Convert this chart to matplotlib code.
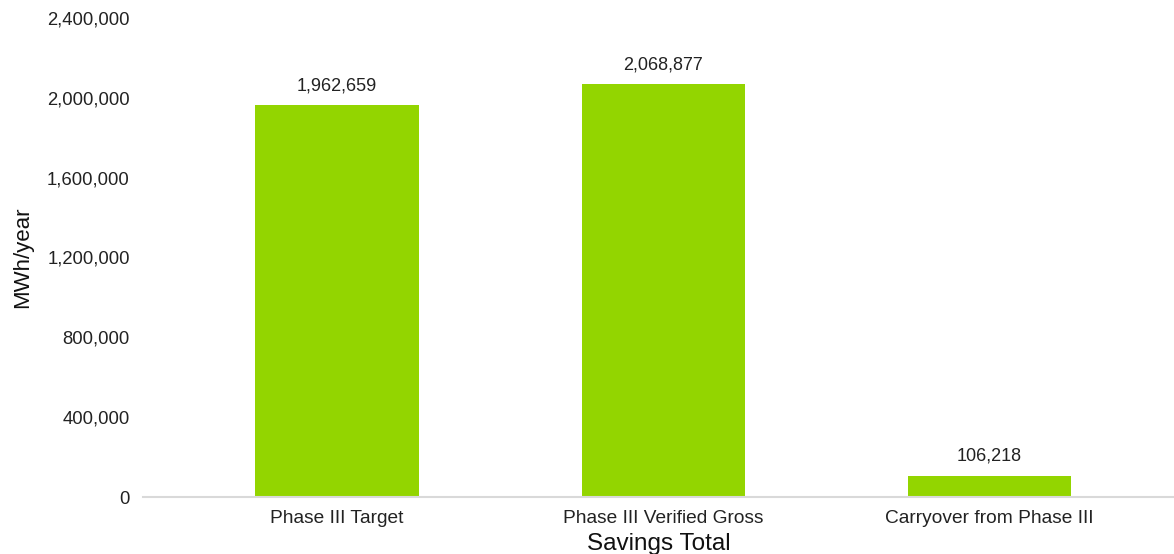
import matplotlib
matplotlib.use("Agg")
import matplotlib.pyplot as plt
from matplotlib.ticker import FuncFormatter

categories = ["Phase III Target", "Phase III Verified Gross", "Carryover from Phase III"]
values = [1962659, 2068877, 106218]
y_ticks = [0, 400000, 800000, 1200000, 1600000, 2000000, 2400000]

plt.rcParams["font.family"] = ["Liberation Sans", "DejaVu Sans"]

fig = plt.figure(figsize=(11.74, 5.54), dpi=100)
ax = fig.add_axes([143 / 1174, 57 / 554, 1 - 143 / 1174, 479 / 554])

x = range(len(categories))
bars = ax.bar(x, values, width=0.5, color="#93D500", zorder=2)

for b, v in zip(bars, values):
    ax.text(b.get_x() + b.get_width() / 2, v + 55000, f"{v:,}",
            ha="center", va="bottom", fontsize=13, color="#222222")

ax.set_ylim(0, 2400000)
ax.set_xlim(-0.595, 2.567)
ax.set_yticks(y_ticks)
ax.yaxis.set_major_formatter(FuncFormatter(lambda v, p: f"{int(v):,}"))
ax.set_xticks(list(x))
ax.set_xticklabels(categories)

for s in ["top", "right", "left"]:
    ax.spines[s].set_visible(False)
ax.spines["bottom"].set_color("#d9d9d9")
ax.spines["bottom"].set_linewidth(1.5)

ax.tick_params(axis="y", length=0, pad=9.5, labelsize=13.3, labelcolor="#222222")
ax.tick_params(axis="x", length=0, pad=9.5, labelsize=13.8, labelcolor="#222222")

ax.set_ylabel("MWh/year", fontsize=16, color="#111111", labelpad=10)
ax.set_xlabel("Savings Total", fontsize=17.5, color="#111111", labelpad=4)

fig.savefig("out.png", dpi=100)
